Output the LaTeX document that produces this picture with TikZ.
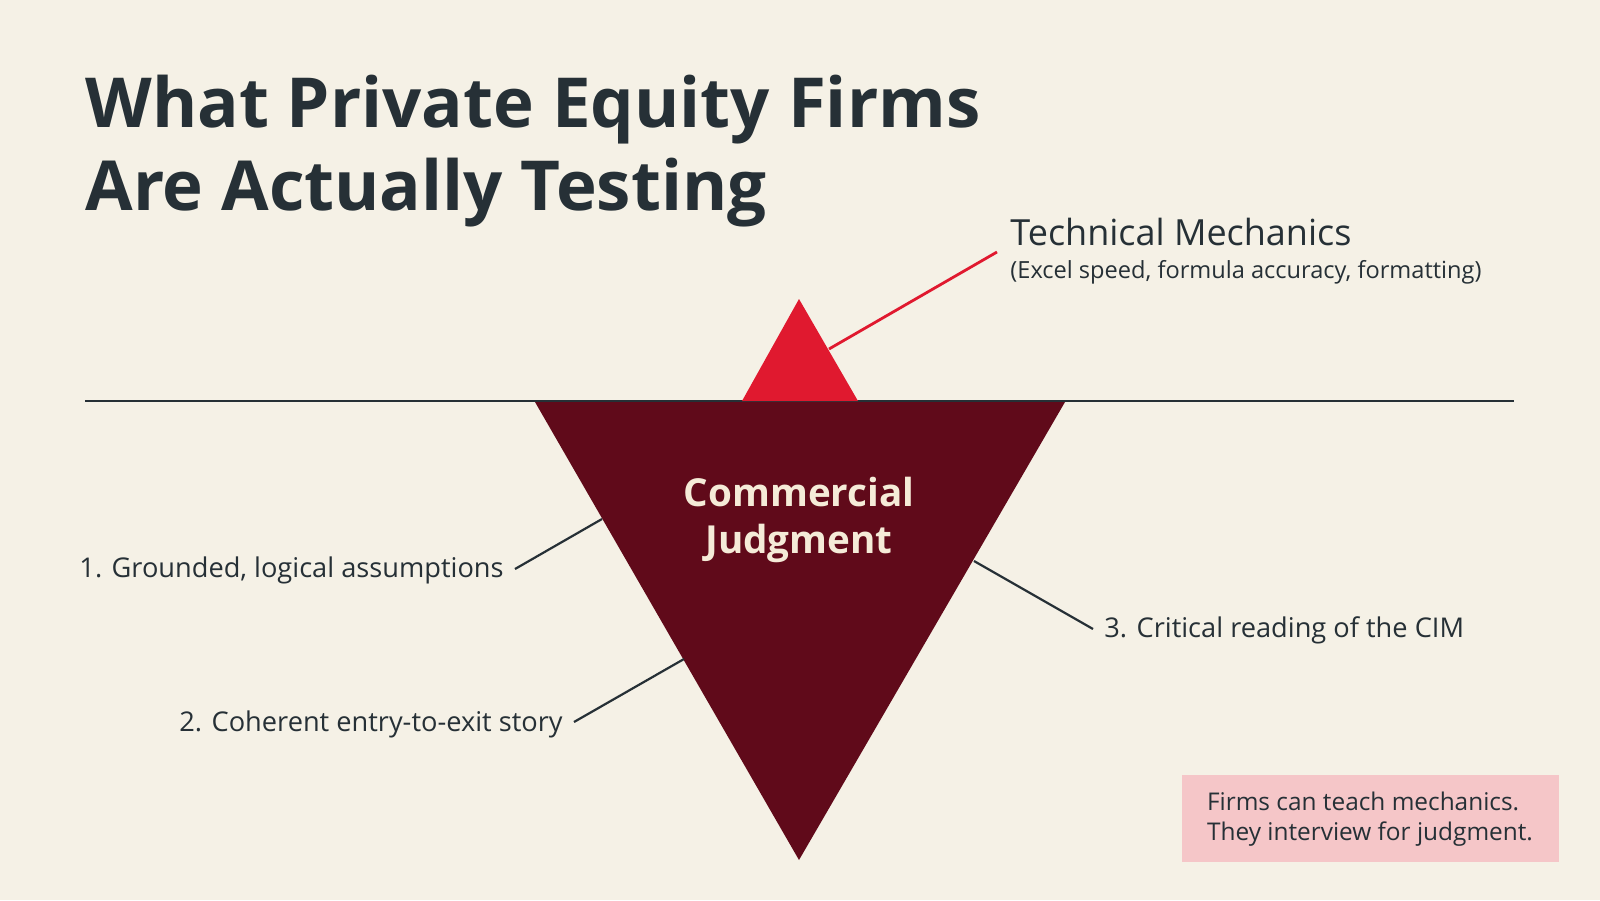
\documentclass[tikz,border=0pt]{standalone}
\usepackage{fontspec}
\setmainfont{Open Sans}
\definecolor{bg}{HTML}{F5F1E6}
\definecolor{ink}{HTML}{263036}
\definecolor{tipred}{HTML}{E0192F}
\definecolor{deep}{HTML}{600A1A}
\definecolor{pinkbox}{HTML}{F5C6C8}
\definecolor{cream}{HTML}{F5EBD8}
\begin{document}
\begin{tikzpicture}[x=0.5pt,y=-0.5pt,
  lbl/.style={font=\fontsize{13.6}{16}\selectfont,text=ink,inner sep=0pt},
  lead/.style={draw=ink,line width=1.1pt}]
\fill[bg] (0,0) rectangle (1600,900);
\useasboundingbox (0,0) rectangle (1600,900);
\node[anchor=base west,inner sep=0pt,text=ink,font=\fontsize{34.5}{40}\selectfont\bfseries] (t1) at (85,127) {What Private Equity Firms};
\node[anchor=base west,inner sep=0pt,text=ink,font=\fontsize{34.5}{40}\selectfont\bfseries] (t2) at (85,210) {Are Actually Testing};
\draw[ink,line width=1.3pt] (85,401) -- (1514,401);
\fill[tipred] (799,299) -- (858,401) -- (742,401) -- cycle;
\fill[deep] (535,402) -- (1065,402) -- (799,860) -- cycle;
\coordinate (r1) at (829,349); \coordinate (r2) at (997,252);
\draw[tipred,line width=1.4pt] (r1) -- (r2);
\node[anchor=base west,inner sep=0pt,text=ink,font=\fontsize{18}{20}\selectfont] (tm) at (1010,245) {Technical Mechanics};
\node[anchor=base west,inner sep=0pt,text=ink,font=\fontsize{11.8}{14}\selectfont] (tms) at (1010,278) {(Excel speed, formula accuracy, formatting)};
\node[align=center,text=cream,font=\fontsize{19.3}{23.5}\selectfont\bfseries] (cj) at (799,520) {Commercial\\Judgment};
\node[lbl,anchor=base east] (l1) at (504,577) {1. Grounded, logical assumptions};
\node[lbl,anchor=base east] (l2) at (563,731) {2. Coherent entry-to-exit story};
\node[lbl,anchor=base west] (l3) at (1104,637) {3. Critical reading of the CIM};
\coordinate (a1) at (515,569); \coordinate (b1) at (602,519);
\coordinate (a2) at (574,722); \coordinate (b2) at (684,659);
\coordinate (a3) at (1093,629); \coordinate (b3) at (974,561);
\draw[lead] (a1) -- (b1); \draw[lead] (a2) -- (b2); \draw[lead] (a3) -- (b3);
\fill[pinkbox] (1182,775) rectangle (1559,862);
\node[align=left,text=ink,font=\fontsize{12.2}{15}\selectfont] (note) at (1370,819) {Firms can teach mechanics.\\They interview for judgment.};
\end{tikzpicture}
\end{document}
